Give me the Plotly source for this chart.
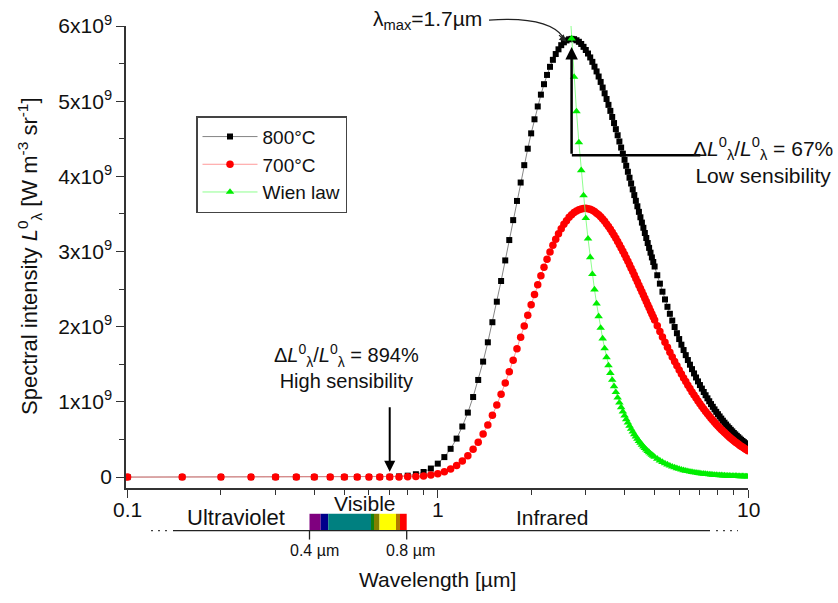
import math
import plotly.graph_objects as go

# ---------------- data (y in units of 1e9 W m^-3 sr^-1) -------------
wavelength = [
    0.10, 0.15, 0.20, 0.25, 0.30, 0.35, 0.40, 0.45, 0.50, 0.55, 0.60, 0.65, 0.70, 0.75, 0.80, 0.85, 0.90, 0.95,
    1.00, 1.05, 1.10, 1.15, 1.20, 1.25, 1.30, 1.35, 1.40, 1.45, 1.50, 1.55, 1.60, 1.65, 1.70, 1.75, 1.80, 1.85, 1.90, 1.95,
    2.00, 2.05, 2.10, 2.15, 2.20, 2.25, 2.30, 2.35, 2.40, 2.45, 2.50, 2.55, 2.60, 2.65, 2.70, 2.75, 2.80, 2.85, 2.90, 2.95,
    3.00, 3.05, 3.10, 3.15, 3.20, 3.25, 3.30, 3.35, 3.40, 3.45, 3.50, 3.55, 3.60, 3.65, 3.70, 3.75, 3.80, 3.85, 3.90, 3.95,
    4.00, 4.05, 4.10, 4.15, 4.20, 4.25, 4.30, 4.35, 4.40, 4.45, 4.50, 4.55, 4.60, 4.65, 4.70, 4.75, 4.80, 4.85, 4.90, 4.95,
    5.0, 5.1, 5.2, 5.3, 5.4, 5.5, 5.6, 5.7, 5.8, 5.9,
    6.0, 6.1, 6.2, 6.3, 6.4, 6.5, 6.6, 6.7, 6.8, 6.9,
    7.0, 7.1, 7.2, 7.3, 7.4, 7.5, 7.6, 7.7, 7.8, 7.9,
    8.0, 8.1, 8.2, 8.3, 8.4, 8.5, 8.6, 8.7, 8.8, 8.9,
    9.0, 9.1, 9.2, 9.3, 9.4, 9.5, 9.6, 9.7, 9.8, 9.9,
    10.0,
]

t800 = [
    0, 0, 0, 0, 0, 0, 0, 0, 0, 0, 0, 0.001, 0.003, 0.009, 0.019, 0.038, 0.068, 0.114,
    0.179, 0.266, 0.376, 0.512, 0.673, 0.858, 1.065, 1.292, 1.536, 1.793, 2.060, 2.333, 2.608, 2.882, 3.153, 3.418, 3.673, 3.918, 4.149, 4.368,
    4.572, 4.759, 4.930, 5.087, 5.226, 5.349, 5.457, 5.550, 5.627, 5.690, 5.745, 5.783, 5.808, 5.823, 5.829, 5.825, 5.810, 5.790, 5.761, 5.723,
    5.681, 5.634, 5.582, 5.523, 5.459, 5.396, 5.328, 5.256, 5.181, 5.105, 5.029, 4.951, 4.871, 4.790, 4.709, 4.628, 4.547, 4.464, 4.383, 4.302,
    4.220, 4.141, 4.061, 3.982, 3.905, 3.827, 3.751, 3.675, 3.602, 3.528, 3.456, 3.385, 3.316, 3.247, 3.180, 3.113, 3.049, 2.985, 2.922, 2.861,
    2.801, 2.685, 2.573, 2.466, 2.363, 2.265, 2.172, 2.082, 1.996, 1.914,
    1.836, 1.761, 1.690, 1.622, 1.557, 1.495, 1.436, 1.379, 1.325, 1.273,
    1.224, 1.177, 1.132, 1.089, 1.048, 1.009, 0.971, 0.935, 0.901, 0.868,
    0.837, 0.807, 0.778, 0.750, 0.724, 0.699, 0.674, 0.651, 0.629, 0.608,
    0.587, 0.568, 0.549, 0.531, 0.513, 0.496, 0.480, 0.465, 0.450, 0.436,
    0.422,
]

t700 = [
    0, 0, 0, 0, 0, 0, 0, 0, 0, 0, 0, 0, 0, 0.001, 0.003, 0.008, 0.015, 0.027,
    0.045, 0.072, 0.108, 0.155, 0.213, 0.285, 0.369, 0.465, 0.574, 0.693, 0.822, 0.959, 1.102, 1.250, 1.402, 1.555, 1.708, 1.860, 2.009, 2.153,
    2.294, 2.428, 2.557, 2.677, 2.790, 2.896, 2.993, 3.083, 3.165, 3.237, 3.303, 3.362, 3.411, 3.455, 3.489, 3.519, 3.540, 3.557, 3.567, 3.573,
    3.575, 3.570, 3.562, 3.549, 3.532, 3.511, 3.488, 3.462, 3.433, 3.402, 3.368, 3.332, 3.296, 3.257, 3.218, 3.176, 3.135, 3.092, 3.048, 3.004,
    2.960, 2.915, 2.870, 2.824, 2.779, 2.734, 2.688, 2.643, 2.598, 2.553, 2.509, 2.465, 2.422, 2.378, 2.336, 2.293, 2.251, 2.210, 2.169, 2.129,
    2.090, 2.012, 1.937, 1.864, 1.794, 1.727, 1.662, 1.599, 1.538, 1.480,
    1.424, 1.371, 1.319, 1.270, 1.222, 1.177, 1.133, 1.091, 1.051, 1.012,
    0.975, 0.940, 0.906, 0.873, 0.842, 0.812, 0.783, 0.756, 0.729, 0.704,
    0.680, 0.656, 0.634, 0.612, 0.592, 0.572, 0.553, 0.535, 0.517, 0.500,
    0.484, 0.468, 0.453, 0.439, 0.425, 0.411, 0.399, 0.386, 0.374, 0.363,
    0.352,
]

# Wien law locus, starting at 2.65 um
wien_start = wavelength.index(2.65)
wien = [
    6.405, 5.833, 5.322, 4.863, 4.451, 4.081, 3.746,
    3.444, 3.171, 2.924, 2.699, 2.494, 2.308, 2.139, 1.984, 1.842, 1.712, 1.594, 1.485, 1.384, 1.292, 1.207, 1.129, 1.056, 0.990, 0.928, 0.870,
    0.817, 0.768, 0.723, 0.680, 0.640, 0.604, 0.569, 0.537, 0.508, 0.480, 0.454, 0.429, 0.406, 0.385, 0.365, 0.346, 0.329, 0.312, 0.296, 0.282,
    0.268, 0.243, 0.220, 0.200, 0.182, 0.166, 0.152, 0.139, 0.128, 0.117,
    0.108, 0.099, 0.091, 0.084, 0.078, 0.072, 0.067, 0.062, 0.058, 0.054,
    0.050, 0.046, 0.043, 0.040, 0.038, 0.035, 0.033, 0.031, 0.029, 0.027,
    0.026, 0.024, 0.023, 0.021, 0.020, 0.019, 0.018, 0.017, 0.016, 0.015,
    0.014, 0.013, 0.013, 0.012, 0.011, 0.011, 0.010, 0.010, 0.009, 0.009,
    0.008,
]
wien_wavelength = wavelength[wien_start:]

series_names = ["800°C", "700°C", "Wien law"]

y_tick_vals = [0, 1, 2, 3, 4, 5, 6]
y_tick_text = ["0"] + [f"{v}x10<sup>9</sup>" for v in y_tick_vals[1:]]
x_tick_vals = [0.1, 1, 10]
x_tick_text = ["0.1", "1", "10"]
x_minor = [0.2, 0.3, 0.4, 0.5, 0.6, 0.7, 0.8, 0.9, 2, 3, 4, 5, 6, 7, 8, 9]
y_minor = [0.5, 1.5, 2.5, 3.5, 4.5, 5.5]

peak_wl = 2.7        # lambda max of the 800 C curve
peak_mark = 5.72
step_low = 4.28
step_end_wl = 7.02
vis_arrow_wl = 0.7

# ---------------- figure ----------------
FONT = "Arial, 'Liberation Sans', sans-serif"
W, H = 838, 603
PL, PT, PW, PH = 126, 22, 622, 466


def px(x):
    return (x - PL) / PW


def py(y):
    return (PT + PH - y) / PH


fig = go.Figure()
fig.add_trace(go.Scatter(
    x=wavelength, y=t800, name=series_names[0], mode="lines+markers",
    line=dict(color="#666666", width=0.8),
    marker=dict(symbol="square", size=6, color="black"),
))
fig.add_trace(go.Scatter(
    x=wavelength, y=t700, name=series_names[1], mode="lines+markers",
    line=dict(color="#ff8080", width=0.8),
    marker=dict(symbol="circle", size=7.5, color="#ff0000"),
))
fig.add_trace(go.Scatter(
    x=wien_wavelength, y=wien, name=series_names[2], mode="lines+markers",
    line=dict(color="#70ff70", width=0.8),
    marker=dict(symbol="triangle-up", size=7.5, color="#00ee00"),
))

axis_col = "#333333"
fig.update_xaxes(
    type="log", range=[-1.005, 1.0], showgrid=False, zeroline=False,
    showline=True, linecolor=axis_col, linewidth=1.5,
    ticks="outside", ticklen=8, tickwidth=1.3, tickcolor=axis_col,
    tickvals=x_tick_vals, ticktext=x_tick_text, showticklabels=False,
    minor=dict(tickvals=x_minor, ticks="outside", ticklen=5, tickwidth=1.2, tickcolor=axis_col),
)
fig.update_yaxes(
    range=[-0.145, 6.0], showgrid=False, zeroline=False,
    showline=True, linecolor=axis_col, linewidth=1.5,
    ticks="outside", ticklen=8, tickwidth=1.3, tickcolor=axis_col,
    tickvals=y_tick_vals, ticktext=y_tick_text,
    tickfont=dict(family=FONT, size=21, color="#111"),
    minor=dict(tickvals=y_minor, ticks="outside", ticklen=5, tickwidth=1.2, tickcolor=axis_col),
)

ann = []


def label(text, cx, cy, size=21, **kw):
    d = dict(xref="paper", yref="paper", x=px(cx), y=py(cy), showarrow=False, text=text,
             xanchor="center", yanchor="middle", align="center",
             font=dict(family=FONT, size=size, color="#111"))
    d.update(kw)
    ann.append(d)


# x tick labels (drawn at the tick positions)
for v, t in zip(x_tick_vals, x_tick_text):
    ann.append(dict(xref="x", yref="paper", x=math.log10(v), y=py(510), showarrow=False, text=t,
                    xanchor="center", yanchor="middle", font=dict(family=FONT, size=21, color="#111")))

# axis titles
label("Wavelength [µm]", 437, 580, 21)
label("Spectral intensity <i>L</i><sup>0</sup><sub>λ</sub> [W m<sup>-3</sup> sr<sup>-1</sup>]", 29, 254, 22,
      textangle=-90)
# lambda max label + arrowhead
label("λ<sub>max</sub>=1.7µm", 427, 16, 21)
ann.append(dict(xref="x", yref="y", x=math.log10(2.6), y=5.79, text="", showarrow=True,
                ax=-9, ay=-8, arrowhead=2, arrowsize=1.1, arrowwidth=1.3, arrowcolor="#222"))
# vertical arrow at peak and horizontal step
ann.append(dict(xref="x", yref="y", x=math.log10(peak_wl), y=peak_mark, axref="x", ayref="y",
                ax=math.log10(peak_wl), ay=step_low, text="", showarrow=True,
                arrowhead=2, arrowsize=1.0, arrowwidth=2.5, arrowcolor="black"))
ann.append(dict(xref="x", yref="y", x=math.log10(step_end_wl), y=step_low, axref="x", ayref="y",
                ax=math.log10(peak_wl) - 0.004, ay=step_low, text="", showarrow=True,
                arrowhead=0, arrowwidth=2.5, arrowcolor="black"))
label("Δ<i>L</i><sup>0</sup><sub>λ</sub>/<i>L</i><sup>0</sup><sub>λ</sub> = 67%<br>Low sensibility", 763, 158, 21)
# high sensibility arrow
ann.append(dict(xref="x", yref="y", x=math.log10(vis_arrow_wl), y=0.07, axref="x", ayref="y",
                ax=math.log10(vis_arrow_wl), ay=0.95, text="", showarrow=True,
                arrowhead=2, arrowsize=1.1, arrowwidth=2, arrowcolor="black"))
label("Δ<i>L</i><sup>0</sup><sub>λ</sub>/<i>L</i><sup>0</sup><sub>λ</sub> = 894%<br>High sensibility", 346, 365, 20)
# spectrum labels below axis
label("Ultraviolet", 236, 518, 22)
label("Visible", 364, 504, 21)
label("Infrared", 552, 518, 21)
label("0.4 µm", 314, 551, 16)
label("0.8 µm", 410, 551, 16)

shapes = []
# curved arrow for lambda max
shapes.append(dict(type="path", xref="paper", yref="paper",
                   path=f"M {px(489)},{py(16)} Q {px(548)},{py(12)} {px(563)},{py(33)}",
                   line=dict(color="#222", width=1.3)))
# spectrum bar
spectrum = [(309.5, 320.7, "#7f007f"), (320.7, 328.3, "#00008b"), (328.3, 371, "#008080"),
            (371, 374, "#108010"), (374, 379.5, "#808000"), (379.5, 396, "#ffff00"),
            (396, 400, "#b07800"), (400, 406.7, "#ff0000")]
for x0, x1, c in spectrum:
    shapes.append(dict(type="rect", xref="paper", yref="paper", x0=px(x0), x1=px(x1),
                       y0=py(531), y1=py(514), fillcolor=c, line=dict(width=0), layer="above"))
# baseline and dotted ends
shapes.append(dict(type="line", xref="paper", yref="paper", x0=px(173), x1=px(710), y0=py(531), y1=py(531),
                   line=dict(color="#222", width=1.3)))
for a, b in [(151, 169), (716, 738)]:
    shapes.append(dict(type="line", xref="paper", yref="paper", x0=px(a), x1=px(b), y0=py(531), y1=py(531),
                       line=dict(color="#444", width=1.3, dash="2px,5px")))
for xx in (309.5, 406.7):
    shapes.append(dict(type="line", xref="paper", yref="paper", x0=px(xx), x1=px(xx), y0=py(531), y1=py(540),
                       line=dict(color="#222", width=1.3)))

fig.update_layout(
    width=W, height=H, margin=dict(l=PL, r=W - PL - PW, t=PT, b=H - PT - PH),
    paper_bgcolor="white", plot_bgcolor="white",
    font=dict(family=FONT, size=20, color="#111"),
    annotations=ann, shapes=shapes,
    legend=dict(x=px(196), y=py(113), xanchor="left", yanchor="top",
                bgcolor="white", bordercolor="#444", borderwidth=1.5,
                font=dict(family=FONT, size=19, color="#111"),
                itemwidth=55, tracegroupgap=0),
    showlegend=True,
)

fig.write_html("out.html")
